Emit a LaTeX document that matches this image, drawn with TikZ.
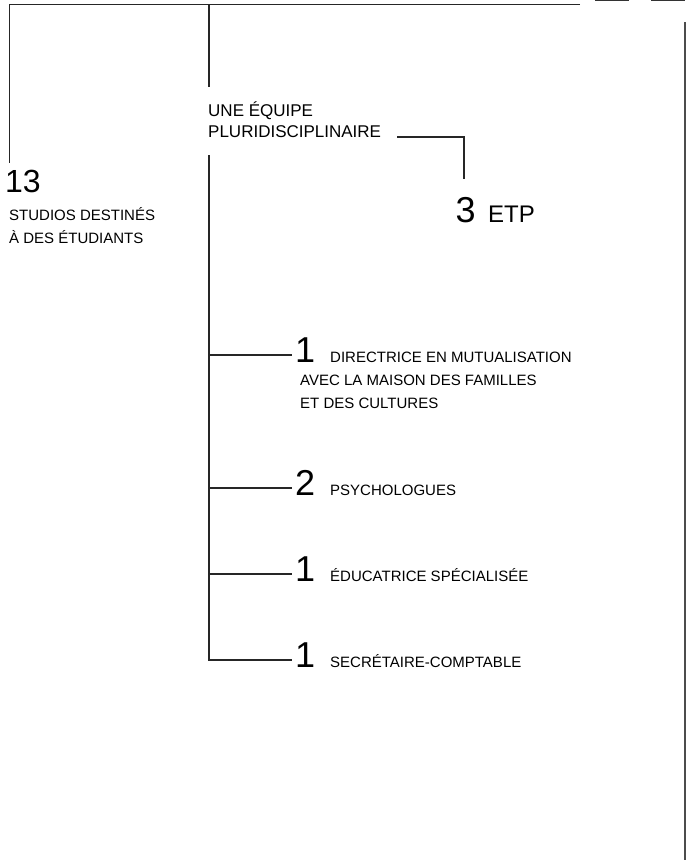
\documentclass[tikz,border=0pt]{standalone}
\usepackage{fontspec}
\setmainfont{Liberation Sans}
\usepackage{tikz}
\usetikzlibrary{positioning}
\tikzstyle{trunk}=[line width=1.3pt, black!85]
\tikzstyle{sidebar}=[line width=2pt, black!70]
\tikzstyle{bignum}=[inner sep=0pt, anchor=base west, font=\fontsize{36}{36}\selectfont]
\tikzstyle{midnum}=[inner sep=0pt, anchor=base west, font=\fontsize{32}{32}\selectfont]
\tikzstyle{unit}=[inner sep=0pt, anchor=base west, font=\fontsize{24}{24}\selectfont]
\tikzstyle{heading}=[inner sep=0pt, anchor=base west, align=left, font=\fontsize{17}{21}\selectfont]
\tikzstyle{caption}=[inner sep=0pt, anchor=base west, align=left, font=\fontsize{15}{23}\selectfont]
\newcommand{\drawStaffRow}[4]{
    \node[bignum] (#1Num) at (295,#2) {#3};
    \node[caption] (#1Txt) at (330,#2) {#4};
    \coordinate (#1Branch) at (292,#2-7);
}

\begin{document}
\begin{tikzpicture}[x=1pt, y=-1pt]
    % Frame
    \useasboundingbox (0,0) rectangle (691,860);

    % Top bar and corner marks
    \coordinate (topL) at (9.5,4.5);
    \coordinate (topM) at (209,4.5);
    \coordinate (topR) at (580,4.5);
    \coordinate (studioEnd) at (9.5,163);
    \coordinate (teamTop) at (209,87);
    \draw[trunk] (topR) -- (topL) -- (studioEnd);
    \draw[trunk] (topM) -- (teamTop);
    \draw[line width=2.6pt, black!80] (595,0) -- (629,0);
    \draw[line width=2.6pt, black!80] (651,0) -- (685,0);
    \draw[sidebar] (685,22) -- (685,860);

    % Studios (base of a multi-line node = its last line)
    \node[midnum] (studioNum) at (5,192) {13};
    \node[caption] (studioTxt) at (9,243) {STUDIOS DESTINÉS\\À DES ÉTUDIANTS};

    % Team and its total
    \node[heading] (team) at (208,137) {UNE ÉQUIPE\\PLURIDISCIPLINAIRE};
    \node[bignum] (etpNum) at (455.5,222) {3};
    \node[unit] (etpTxt) at (488,222) {ETP};
    \coordinate (etpStart) at (397,137);
    \coordinate (etpEnd) at (464,179);
    \draw[trunk] (etpStart) -| (etpEnd);

    % Staff, one row per post
    \drawStaffRow{dir}{362}{1}{DIRECTRICE EN MUTUALISATION}
    \node[caption] (dirMore) at (300,408) {AVEC LA MAISON DES FAMILLES\\ET DES CULTURES};
    \drawStaffRow{psy}{495}{2}{PSYCHOLOGUES}
    \drawStaffRow{edu}{581}{1}{ÉDUCATRICE SPÉCIALISÉE}
    \drawStaffRow{sec}{667}{1}{SECRÉTAIRE-COMPTABLE}

    % Spine and branches
    \coordinate (spineTop) at (209,155);
    \draw[trunk] (spineTop) |- (secBranch);
    \foreach \row in {dir,psy,edu} {
        \draw[trunk] (spineTop |- \row Branch) -- (\row Branch);
    }
\end{tikzpicture}
\end{document}
